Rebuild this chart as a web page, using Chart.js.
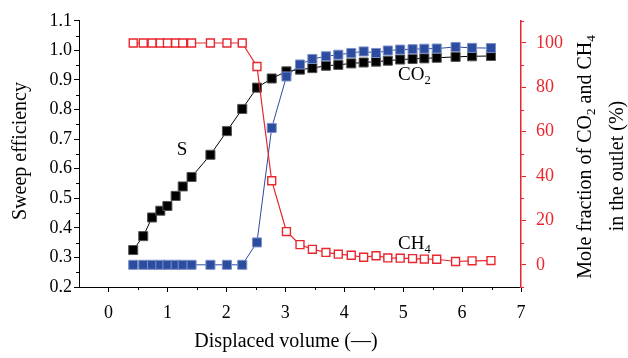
<!DOCTYPE html>
<html>
<head>
<meta charset="utf-8">
<script src="https://cdn.jsdelivr.net/npm/chart.js@4.4.1/dist/chart.umd.min.js"></script>
<style>
  html, body { margin: 0; padding: 0; background: #fff; }
  canvas { display: block; }
</style>
</head>
<body>
<canvas id="c" width="628" height="358"></canvas>
<script>
// ---- data ----
const displacedVolume = [0.42, 0.59, 0.74, 0.88, 1.00, 1.14, 1.26, 1.41, 1.73, 2.01, 2.27, 2.52, 2.77, 3.02, 3.25, 3.46, 3.69, 3.90, 4.12, 4.33, 4.54, 4.74, 4.95, 5.16, 5.36, 5.57, 5.89, 6.17, 6.49];
const sweepEfficiency = [0.325, 0.372, 0.435, 0.458, 0.474, 0.508, 0.540, 0.572, 0.647, 0.727, 0.802, 0.874, 0.905, 0.929, 0.935, 0.940, 0.948, 0.951, 0.956, 0.959, 0.962, 0.965, 0.969, 0.971, 0.973, 0.975, 0.978, 0.980, 0.981];
const co2Fraction = [0, 0, 0, 0, 0, 0, 0, 0, 0, 0, 0, 10.1, 61.7, 84.9, 90.3, 92.8, 94.0, 94.7, 95.5, 96.2, 95.5, 96.6, 97.0, 97.2, 97.4, 97.5, 98.2, 97.8, 97.7];
const ch4Fraction = [100, 100, 100, 100, 100, 100, 100, 100, 100, 100, 100, 89.4, 37.9, 15.0, 9.1, 7.0, 5.6, 4.8, 4.3, 3.4, 4.1, 3.1, 3.0, 2.8, 2.6, 2.5, 1.5, 1.8, 1.9];
const xTicks = [0, 1, 2, 3, 4, 5, 6, 7];
const yTicks = [0.2, 0.3, 0.4, 0.5, 0.6, 0.7, 0.8, 0.9, 1.0, 1.1];
const y2Ticks = [0, 20, 40, 60, 80, 100];
const xMinor = [0.5, 1.5, 2.5, 3.5, 4.5, 5.5, 6.5];
const yMinor = [0.25, 0.35, 0.45, 0.55, 0.65, 0.75, 0.85, 0.95, 1.05];
const y2Minor = [-10, 10, 30, 50, 70, 90, 110];

const FONT = "'Liberation Serif', 'DejaVu Serif', serif";
const RED = '#e8262d';
const BLUE = '#2b4c9f';

const pts = arr => displacedVolume.map((x, i) => ({ x: x, y: arr[i] }));

function measureRich(ctx, parts, size) {
  let w = 0;
  const subSize = size * 0.66;
  for (const [t, sub] of parts) {
    ctx.font = (sub ? subSize : size) + 'px ' + FONT;
    w += ctx.measureText(t).width;
  }
  return w;
}
function paintRich(ctx, parts, size, x, y) {
  const subSize = size * 0.66;
  let cx = x;
  for (const [t, sub] of parts) {
    ctx.font = (sub ? subSize : size) + 'px ' + FONT;
    ctx.fillText(t, cx, sub ? y + size * 0.22 : y);
    cx += ctx.measureText(t).width;
  }
}

const extras = {
  id: 'extras',
  afterDraw(chart) {
    const ctx = chart.ctx;
    const sx = chart.scales.x, sy = chart.scales.y, sy2 = chart.scales.y2;
    ctx.save();
    // minor ticks
    ctx.lineWidth = 1;
    ctx.strokeStyle = '#000';
    ctx.beginPath();
    for (const v of xMinor) {
      const p = Math.round(sx.getPixelForValue(v)) + 0.5;
      ctx.moveTo(p, sx.top); ctx.lineTo(p, sx.top + 3);
    }
    for (const v of yMinor) {
      const p = Math.round(sy.getPixelForValue(v)) + 0.5;
      ctx.moveTo(sy.right, p); ctx.lineTo(sy.right - 3, p);
    }
    ctx.stroke();
    ctx.strokeStyle = RED;
    ctx.beginPath();
    for (const v of y2Minor) {
      const p = Math.round(sy2.getPixelForValue(v)) + 0.5;
      ctx.moveTo(sy2.left, p); ctx.lineTo(sy2.left + 3, p);
    }
    ctx.stroke();

    ctx.fillStyle = '#000';
    ctx.textBaseline = 'middle';
    // x title
    ctx.font = '20px ' + FONT;
    ctx.textAlign = 'center';
    ctx.fillText('Displaced volume (—)', 286, 342);
    // left title
    ctx.save();
    ctx.translate(21, 151);
    ctx.rotate(-Math.PI / 2);
    ctx.fillText('Sweep efficiency', 0, 0);
    ctx.restore();
    // right title (two lines, reading bottom to top)
    ctx.textAlign = 'left';
    ctx.textBaseline = 'alphabetic';
    const line1 = [['Mole fraction of CO', false], ['2', true], [' and CH', false], ['4', true]];
    const w1 = measureRich(ctx, line1, 20);
    ctx.save();
    ctx.translate(591, 157);
    ctx.rotate(-Math.PI / 2);
    paintRich(ctx, line1, 20, -w1 / 2, 0);
    ctx.restore();
    const line2 = [['in the outlet (%)', false]];
    const w2 = measureRich(ctx, line2, 20);
    ctx.save();
    ctx.translate(623, 166);
    ctx.rotate(-Math.PI / 2);
    paintRich(ctx, line2, 20, -w2 / 2, 0);
    ctx.restore();

    // in-plot labels
    ctx.font = '19px ' + FONT;
    ctx.textAlign = 'center';
    ctx.fillText('S', 182, 155);
    ctx.textAlign = 'left';
    paintRich(ctx, [['CO', false], ['2', true]], 19, 398, 80);
    paintRich(ctx, [['CH', false], ['4', true]], 19, 398, 249);
    ctx.restore();
  }
};

new Chart(document.getElementById('c'), {
  type: 'scatter',
  data: {
    datasets: [
      {
        label: 'CH4',
        data: pts(ch4Fraction),
        yAxisID: 'y2',
        showLine: true,
        borderColor: RED,
        borderWidth: 1.2,
        pointStyle: 'rect',
        pointRadius: 5.6,
        pointBorderWidth: 1.4,
        pointBackgroundColor: '#fff',
        pointBorderColor: RED,
        order: 0
      },
      {
        label: 'CO2',
        data: pts(co2Fraction),
        yAxisID: 'y2',
        showLine: true,
        borderColor: BLUE,
        borderWidth: 1,
        pointStyle: 'rect',
        pointRadius: 6.4,
        pointBorderWidth: 1,
        pointBackgroundColor: BLUE,
        pointBorderColor: '#7d90c6',
        order: 1
      },
      {
        label: 'S',
        data: pts(sweepEfficiency),
        yAxisID: 'y',
        showLine: true,
        borderColor: '#000',
        borderWidth: 1,
        pointStyle: 'rect',
        pointRadius: 6.4,
        pointBorderWidth: 1,
        pointBackgroundColor: '#000',
        pointBorderColor: '#555',
        order: 2
      }
    ]
  },
  options: {
    responsive: false,
    animation: false,
    devicePixelRatio: 1,
    layout: { padding: { top: 15, left: 0, right: 0, bottom: 0 } },
    plugins: { legend: { display: false }, tooltip: { enabled: false } },
    scales: {
      x: {
        type: 'linear', position: 'bottom', min: -0.5, max: 7,
        grid: { display: true, drawOnChartArea: false, drawTicks: true, tickLength: 5, color: '#000', lineWidth: 1 },
        border: { display: true, color: '#000', width: 1 },
        ticks: { color: '#000', font: { family: FONT, size: 18 }, padding: 10, maxRotation: 0, callback: v => String(v) },
        afterBuildTicks: s => { s.ticks = xTicks.map(v => ({ value: v })); },
        afterFit: s => { s.height = 71; }
      },
      y: {
        type: 'linear', position: 'left', min: 0.2, max: 1.1,
        grid: { display: true, drawOnChartArea: false, drawTicks: true, tickLength: 5, color: '#000', lineWidth: 1 },
        border: { display: true, color: '#000', width: 1 },
        ticks: { color: '#000', font: { family: FONT, size: 18 }, padding: 2, callback: v => Number(v).toFixed(1) },
        afterBuildTicks: s => { s.ticks = yTicks.map(v => ({ value: v })); },
        afterFit: s => { s.width = 79; }
      },
      y2: {
        type: 'linear', position: 'right', min: -10, max: 110,
        grid: { display: true, drawOnChartArea: false, drawTicks: true, tickLength: 5, color: RED, lineWidth: 1 },
        border: { display: true, color: RED, width: 1.5 },
        ticks: { color: RED, font: { family: FONT, size: 18 }, padding: 10, callback: v => String(v) },
        afterBuildTicks: s => { s.ticks = y2Ticks.map(v => ({ value: v })); },
        afterFit: s => { s.width = 107; }
      }
    }
  },
  plugins: [extras]
});
</script>
</body>
</html>
